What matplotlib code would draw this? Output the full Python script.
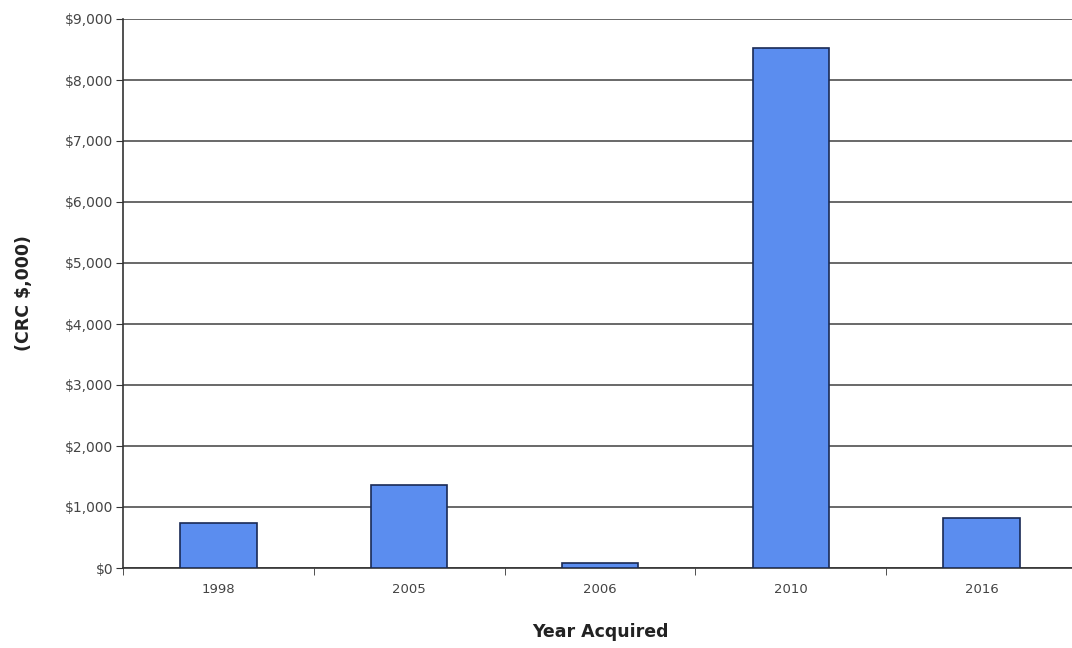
import matplotlib.pyplot as plt
from matplotlib.ticker import FuncFormatter, FixedLocator
import numpy as np

years = ['1998', '2005', '2006', '2010', '2016']
values = [740, 1360, 80, 8520, 820]

fig = plt.figure(figsize=(10.72, 6.48), dpi=100)
ax = fig.add_axes([123 / 1072, 80 / 648, 954 / 1072, 549 / 648])

x = np.arange(len(years))
ax.bar(x, values, width=0.4, color='#5b8def', edgecolor='#1a2a55', linewidth=1.2, zorder=3)

ax.set_xlim(-0.5, len(years) - 0.5)
ax.set_ylim(0, 9000)
ax.set_yticks(np.arange(0, 9001, 1000))
ax.yaxis.set_major_formatter(FuncFormatter(lambda v, p: f'${v:,.0f}'))
ax.yaxis.grid(True, color='#404040', linewidth=1.1, zorder=1)

# category labels centred, tick marks on the slot boundaries
ax.set_xticks(x)
ax.set_xticklabels(years)
ax.tick_params(axis='x', which='major', length=0, pad=11, labelsize=9.5, labelcolor='#444444')
ax.xaxis.set_minor_locator(FixedLocator(np.arange(-0.5, len(years), 1.0)))
ax.tick_params(axis='x', which='minor', length=5, color='#333333')
ax.tick_params(axis='y', length=5, color='#333333', labelsize=10, labelcolor='#444444', pad=2)

for s in ['top', 'right']:
    ax.spines[s].set_visible(False)
for s in ['left', 'bottom']:
    ax.spines[s].set_color('#333333')
    ax.spines[s].set_linewidth(1.2)

ax.set_xlabel('Year Acquired', fontsize=12.5, fontweight='bold', color='#222222', labelpad=19)
ax.set_ylabel('(CRC $,000)', fontsize=12.5, fontweight='bold', color='#222222', labelpad=23)

fig.savefig('out.png', dpi=100)
plt.close(fig)
